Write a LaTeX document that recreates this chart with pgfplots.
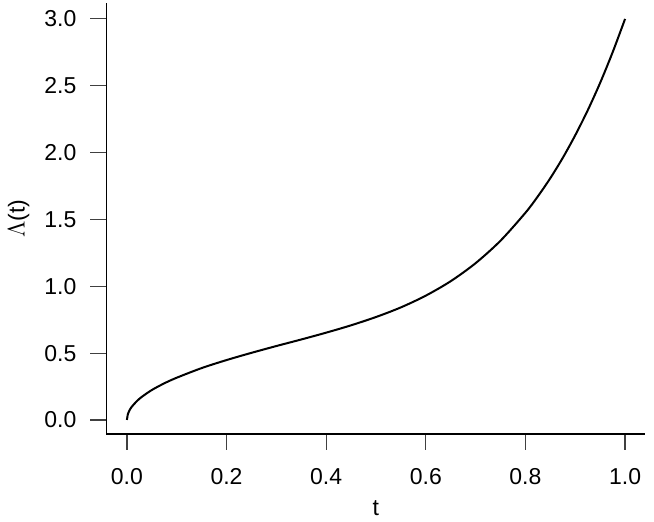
\documentclass[border=0pt]{standalone}
\usepackage{fontspec}
\setmainfont{Liberation Sans}
\usepackage{pgfplots}
\pgfplotsset{compat=1.18}

\begin{document}
\fontsize{11.5}{13.5}\selectfont
\begin{tikzpicture}
\useasboundingbox (-53.25pt,-44pt) rectangle (273.75pt,217pt);
\begin{axis}[
  at={(0,0)},anchor=south west,
  scale only axis,
  width=269.25pt,height=215.5pt,
  xmin=-0.041,xmax=1.040,ymin=-0.105,ymax=3.119,
  axis x line*=bottom,axis y line*=left,
  axis line style={-,line width=0.65pt,black},
  tick align=outside,
  major tick length=8pt,
  tick style={line width=0.6pt,black!75},
  xtick={0,0.2,...,1.0},ytick={0,0.5,...,3.0},
  /pgf/number format/assume math mode=true,
  /pgf/number format/fixed,/pgf/number format/fixed zerofill,
  /pgf/number format/precision=1,
  yticklabel style={anchor=east,xshift=-3pt},
  xticklabel style={anchor=north,yshift=-5pt},
  xlabel={t},ylabel={$\Lambda$(t)},
  xlabel style={at={(axis description cs:0.5,-0.172)},anchor=center},
  ylabel style={at={(axis description cs:-0.163,0.5)},anchor=center,rotate=0},
  every axis plot/.append style={line width=1pt}
]
\addplot[black,smooth] coordinates {
  (0,0) (0.002,0.045) (0.005,0.071) (0.01,0.100) (0.02,0.141) (0.03,0.173)
  (0.05,0.224) (0.075,0.274) (0.1,0.316) (0.15,0.388) (0.2,0.448)
  (0.25,0.502) (0.3,0.553) (0.35,0.602) (0.4,0.653) (0.45,0.708)
  (0.5,0.770) (0.55,0.842) (0.6,0.930) (0.65,1.038) (0.7,1.173)
  (0.75,1.341) (0.8,1.550) (0.825,1.673) (0.85,1.809) (0.875,1.961)
  (0.9,2.130) (0.925,2.316) (0.95,2.522) (0.975,2.750) (1.0,3.000)
};
\end{axis}
\end{tikzpicture}
\end{document}
